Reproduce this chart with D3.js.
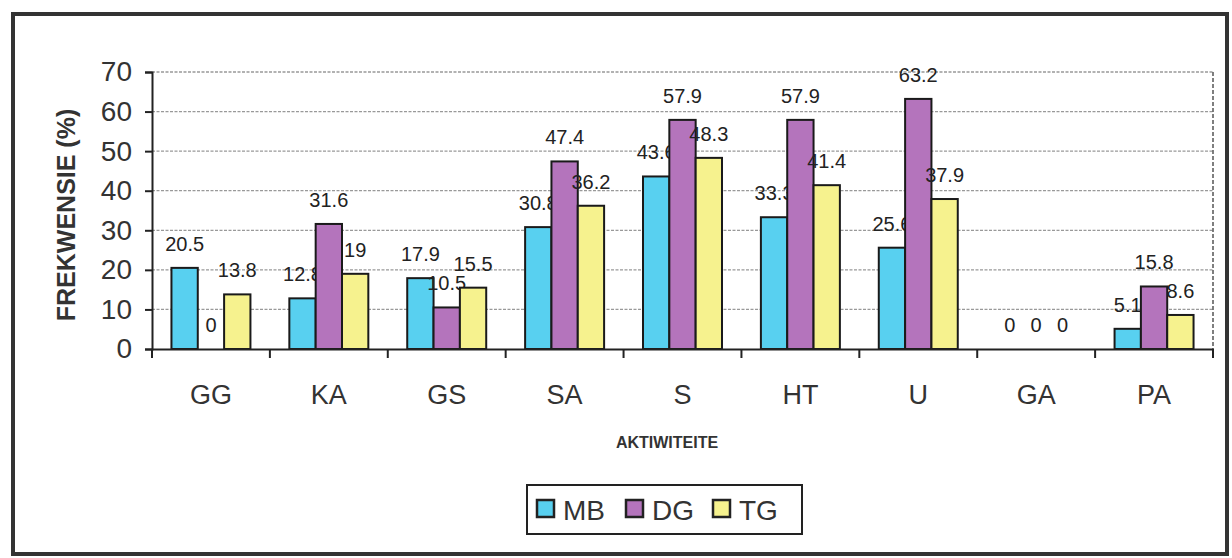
<!DOCTYPE html>
<html><head><meta charset="utf-8">
<script src="https://cdn.jsdelivr.net/npm/d3@7/dist/d3.min.js"></script>
<style>body{margin:0;background:#fff}svg{display:block}</style>
</head><body>
<svg id="c" width="1232" height="558"></svg>
<script>
const categories = ["GG","KA","GS","SA","S","HT","U","GA","PA"];
const seriesNames = ["MB","DG","TG"];
const MB = [20.5,12.8,17.9,30.8,43.6,33.3,25.6,0,5.1];
const DG = [0,31.6,10.5,47.4,57.9,57.9,63.2,0,15.8];
const TG = [13.8,19,15.5,36.2,48.3,41.4,37.9,0,8.6];
const yTicks = [0,10,20,30,40,50,60,70];
const colors = ["#58d0f0","#b474bc","#f6f28e"];

const series = [MB, DG, TG];
const svg = d3.select("#c");
const font = "Liberation Sans, Arial, sans-serif";

// outer frame
svg.append("rect").attr("x",13).attr("y",14).attr("width",1214).attr("height",540)
  .attr("fill","none").attr("stroke","#333").attr("stroke-width",4);

const L=152, R=1213, T=72, B=349;
const x = d3.scaleBand().domain(categories).range([L,R]).paddingInner(0.33).paddingOuter(0.165);
const xo = d3.scaleBand().domain(categories).range([L,R]);
const xs = d3.scaleBand().domain(seriesNames).range([0,x.bandwidth()]);
const y = d3.scaleLinear().domain([0,70]).range([B,T]);

// gridlines
svg.append("g").selectAll("line").data(yTicks.filter(d=>d>0)).join("line")
  .attr("x1",L).attr("x2",R).attr("y1",d=>y(d)).attr("y2",d=>y(d))
  .attr("stroke","#999").attr("stroke-width",1.3).attr("stroke-dasharray","3,1.5");
// right border of plot area
svg.append("line").attr("x1",R).attr("x2",R).attr("y1",T).attr("y2",B)
  .attr("stroke","#555").attr("stroke-width",1.5).attr("stroke-dasharray","4,2");

// bars
const g = svg.append("g");
categories.forEach((c,i)=>{
  seriesNames.forEach((s,j)=>{
    const v = series[j][i];
    if (v>0) {
      g.append("rect").attr("x",x(c)+xs(s)).attr("y",y(v))
        .attr("width",xs.bandwidth()).attr("height",y(0)-y(v))
        .attr("fill",colors[j]).attr("stroke","#1a1a1a").attr("stroke-width",2);
    }
    g.append("text").attr("x",x(c)+xs(s)+xs.bandwidth()/2).attr("y",y(v)-17)
      .attr("text-anchor","middle").attr("font-family",font).attr("font-size",20)
      .attr("fill","#222").text(v);
  });
});

// y axis
const ya = d3.axisLeft(y).tickValues(yTicks).tickSize(7).tickPadding(13).tickFormat(d3.format("d"));
const yg = svg.append("g").attr("transform",`translate(${L},0)`).call(ya);
yg.select(".domain").attr("stroke","#222").attr("stroke-width",2);
yg.selectAll(".tick line").attr("stroke","#222").attr("stroke-width",2);
yg.selectAll("text").attr("font-family",font).attr("font-size",28).attr("fill","#333");

// x axis
const xa = d3.axisBottom(xo).tickSize(0).tickPadding(36);
const xg = svg.append("g").attr("transform",`translate(0,${B})`).call(xa);
xg.select(".domain").attr("stroke","#222").attr("stroke-width",2);
xg.selectAll("text").attr("font-family",font).attr("font-size",27).attr("fill","#333");
// category boundary ticks
svg.append("g").selectAll("line").data(d3.range(categories.length+1)).join("line")
  .attr("x1",d=>L+d*xo.step()).attr("x2",d=>L+d*xo.step()).attr("y1",B).attr("y2",B+9)
  .attr("stroke","#222").attr("stroke-width",2);

// axis titles
svg.append("text").attr("transform",`translate(75,215) rotate(-90)`).attr("text-anchor","middle")
  .attr("font-family",font).attr("font-weight","bold").attr("font-size",25).attr("fill","#333")
  .text("FREKWENSIE (%)");
svg.append("text").attr("x",667).attr("y",448).attr("text-anchor","middle")
  .attr("font-family",font).attr("font-weight","bold").attr("font-size",16).attr("fill","#333")
  .text("AKTIWITEITE");

// legend
const lg = svg.append("g");
lg.append("rect").attr("x",527).attr("y",485).attr("width",275).attr("height",49)
  .attr("fill","#fff").attr("stroke","#222").attr("stroke-width",2);
const lx = [537, 626, 713];
seriesNames.forEach((s,j)=>{
  lg.append("rect").attr("x",lx[j]).attr("y",500).attr("width",17).attr("height",17)
    .attr("fill",colors[j]).attr("stroke","#222").attr("stroke-width",2.5);
  lg.append("text").attr("x",lx[j]+26).attr("y",520).attr("font-family",font)
    .attr("font-size",28).attr("fill","#333").text(s);
});
</script>
</body></html>
